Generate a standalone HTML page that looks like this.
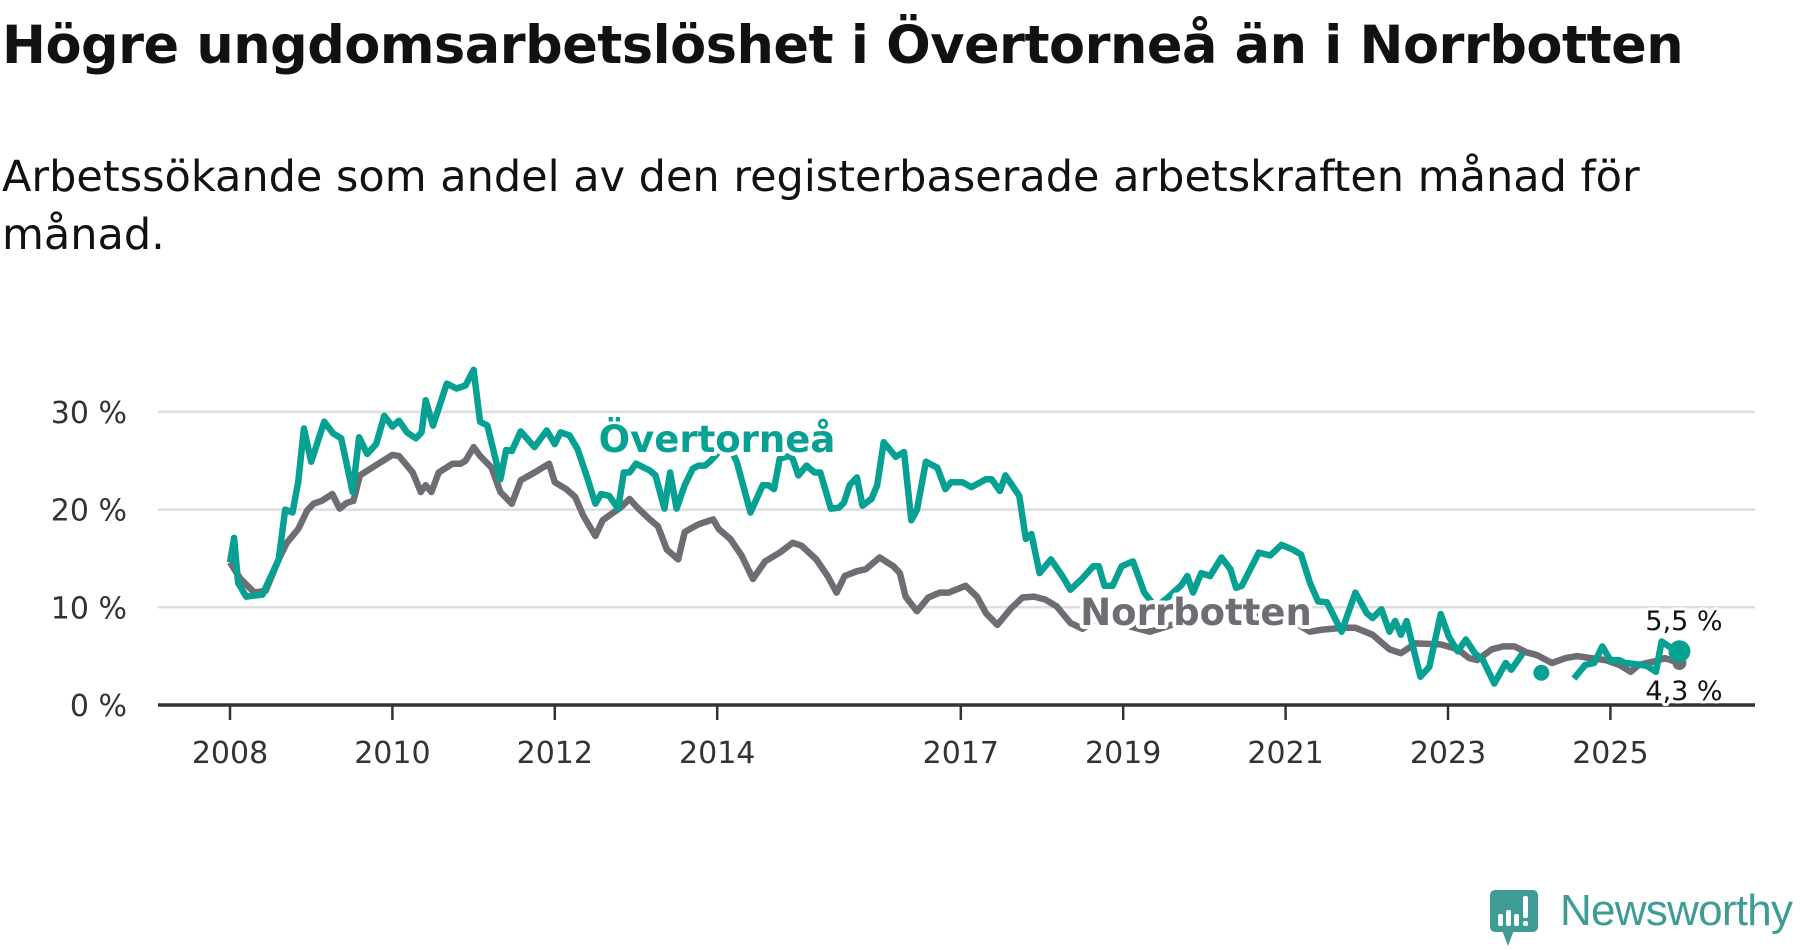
<!DOCTYPE html>
<html><head><meta charset="utf-8"><style>
html,body{margin:0;padding:0;background:#fff;}
body{width:1800px;height:948px;position:relative;overflow:hidden;font-family:"DejaVu Sans","Liberation Sans",sans-serif;}
h1{position:absolute;left:2px;top:15px;margin:0;font-size:52.5px;font-weight:bold;color:#111;letter-spacing:-0.5px;white-space:nowrap;}
p.sub{position:absolute;left:2px;top:148px;margin:0;font-size:43px;line-height:58px;color:#111;width:1760px;}
svg{position:absolute;left:0;top:0;}
</style></head><body>
<h1>Högre ungdomsarbetslöshet i Övertorneå än i Norrbotten</h1>
<p class="sub">Arbetssökande som andel av den registerbaserade arbetskraften månad för<br>månad.</p>
<svg id="chart" width="1800" height="948" xmlns="http://www.w3.org/2000/svg"></svg>
<script>
const yTicks=[0,10,20,30];
const yTickLabels=["0 %","10 %","20 %","30 %"];
const xTicks=[2008,2010,2012,2014,2017,2019,2021,2023,2025];
const overDates=[2008.0,2008.05,2008.1,2008.2,2008.4,2008.6,2008.68,2008.77,2008.84,2008.91,2009.0,2009.16,2009.27,2009.37,2009.51,2009.59,2009.69,2009.8,2009.9,2010.0,2010.08,2010.18,2010.29,2010.36,2010.41,2010.5,2010.67,2010.79,2010.9,2011.0,2011.08,2011.17,2011.33,2011.4,2011.47,2011.58,2011.75,2011.9,2012.0,2012.07,2012.18,2012.28,2012.39,2012.5,2012.57,2012.67,2012.78,2012.85,2012.92,2013.0,2013.17,2013.24,2013.35,2013.42,2013.5,2013.6,2013.7,2013.77,2013.85,2013.92,2014.05,2014.15,2014.24,2014.41,2014.56,2014.63,2014.7,2014.77,2014.88,2014.93,2015.0,2015.1,2015.2,2015.27,2015.4,2015.5,2015.56,2015.63,2015.72,2015.79,2015.9,2015.97,2016.05,2016.2,2016.3,2016.39,2016.46,2016.57,2016.71,2016.81,2016.88,2017.02,2017.13,2017.31,2017.38,2017.48,2017.55,2017.72,2017.8,2017.87,2017.97,2018.11,2018.25,2018.35,2018.49,2018.63,2018.7,2018.77,2018.87,2018.98,2019.12,2019.26,2019.4,2019.55,2019.72,2019.79,2019.86,2019.96,2020.07,2020.21,2020.32,2020.39,2020.46,2020.67,2020.81,2020.95,2021.09,2021.19,2021.3,2021.4,2021.51,2021.69,2021.86,2022.0,2022.07,2022.18,2022.28,2022.35,2022.42,2022.49,2022.66,2022.77,2022.91,2023.01,2023.12,2023.22,2023.33,2023.43,2023.57,2023.71,2023.78,2023.92,2024.0,2024.15,2024.3,2024.55,2024.69,2024.8,2024.9,2025.0,2025.11,2025.18,2025.3,2025.45,2025.56,2025.63,2025.72,2025.85];
const overValues=[14.6,17.1,12.5,11.1,11.3,14.9,20,19.7,22.8,28.3,24.9,29,27.8,27.3,21.8,27.4,25.7,26.7,29.6,28.5,29.1,27.9,27.3,27.9,31.2,28.6,32.9,32.4,32.7,34.3,29,28.6,23.1,26.1,26,28,26.4,28.1,26.7,27.9,27.6,26.2,23.5,20.6,21.6,21.4,20.1,23.8,23.8,24.7,24,23.5,20.1,23.8,20.1,22.5,24.2,24.5,24.5,25,26.2,26.5,24.9,19.7,22.5,22.5,22.1,25.2,25.5,25.2,23.5,24.5,23.8,23.8,20.1,20.2,20.7,22.5,23.3,20.4,21.1,22.5,26.9,25.4,25.9,18.9,20,24.9,24.3,22.1,22.8,22.8,22.3,23.1,23.1,21.9,23.5,21.4,17,17.5,13.5,14.9,13.2,11.8,12.9,14.2,14.2,12.2,12.2,14.2,14.7,11.5,10,11,12.3,13.2,11.5,13.5,13.2,15.1,13.9,12,12.2,15.6,15.3,16.4,15.9,15.4,12.5,10.6,10.5,7.5,11.5,9.4,8.9,9.8,7.5,8.6,7.2,8.6,2.9,3.9,9.3,7,5.5,6.7,5.3,4.6,2.2,4.3,3.6,5.3,null,3.3,null,2.7,4.1,4.3,6,4.6,4.6,4.3,4.2,4.0,3.4,6.5,6.0,5.5];
const norrDates=[2008.0,2008.13,2008.3,2008.44,2008.6,2008.7,2008.84,2008.95,2009.03,2009.13,2009.26,2009.35,2009.44,2009.52,2009.6,2010.0,2010.08,2010.18,2010.25,2010.35,2010.41,2010.48,2010.57,2010.74,2010.84,2010.9,2011.0,2011.08,2011.22,2011.33,2011.47,2011.58,2011.75,2011.93,2012.0,2012.14,2012.25,2012.35,2012.5,2012.59,2012.67,2012.81,2012.92,2013.03,2013.17,2013.27,2013.38,2013.52,2013.6,2013.66,2013.77,2013.95,2014.02,2014.16,2014.3,2014.44,2014.59,2014.77,2014.93,2015.04,2015.22,2015.36,2015.47,2015.57,2015.72,2015.83,2016.0,2016.17,2016.25,2016.32,2016.46,2016.6,2016.74,2016.85,2017.06,2017.2,2017.31,2017.45,2017.62,2017.76,2017.9,2018.04,2018.18,2018.35,2018.5,2018.7,2018.9,2019.1,2019.33,2019.6,2019.9,2020.2,2020.4,2020.6,2020.9,2021.1,2021.3,2021.44,2021.72,2021.86,2022.07,2022.28,2022.42,2022.6,2022.91,2023.12,2023.26,2023.36,2023.54,2023.68,2023.82,2023.96,2024.1,2024.28,2024.45,2024.59,2024.76,2024.94,2025.11,2025.25,2025.35,2025.56,2025.67,2025.85];
const norrValues=[14.6,12.9,11.5,11.7,14.9,16.6,18,19.9,20.6,20.9,21.6,20.1,20.7,20.9,23.5,25.6,25.5,24.5,23.8,21.8,22.5,21.8,23.8,24.7,24.7,25,26.4,25.5,24.3,21.8,20.6,23,23.8,24.7,22.8,22.1,21.3,19.4,17.3,18.9,19.4,20.2,21.1,20.1,19,18.3,15.9,14.9,17.7,18,18.5,19,18,17,15.3,12.9,14.7,15.6,16.6,16.3,14.9,13.2,11.5,13.2,13.7,13.9,15.1,14.2,13.5,11.1,9.6,11,11.5,11.5,12.2,11.1,9.4,8.2,9.9,11,11.1,10.8,10.1,8.4,7.8,9,8.5,8.0,7.5,8.2,9,8.5,10,9.5,8.8,8.5,7.5,7.7,7.9,7.9,7.2,5.7,5.3,6.3,6.2,5.7,4.8,4.6,5.7,6,6,5.4,5.1,4.3,4.8,5,4.8,4.6,4.1,3.4,4.1,4.5,4.8,4.3];
const TEAL="#06a193", GRAY="#6e6d73";
const FONT="DejaVu Sans, Liberation Sans, sans-serif";
const svg=document.getElementById('chart');
const NS="http://www.w3.org/2000/svg";
function x(d){return 230+81.2*(d-2008);}
function y(v){return 705-9.77*v;}
function mk(t,attrs){const e=document.createElementNS(NS,t);for(const k in attrs)e.setAttribute(k,attrs[k]);svg.appendChild(e);return e;}
yTicks.forEach((t,i)=>{
  if(t>0){const g=mk('line',{x1:158,x2:1755,y1:y(t),y2:y(t),stroke:'#dedede','stroke-width':2.5});
  
  }
  const l=mk('text',{x:127,y:y(t)+11,'text-anchor':'end','font-size':30,fill:'#333','font-family':FONT});
  l.textContent=yTickLabels[i];
  
  
});
xTicks.forEach(t=>{
  const tk=mk('line',{x1:x(t),x2:x(t),y1:705,y2:720,stroke:'#333','stroke-width':2.5});
  
  
  const l=mk('text',{x:x(t),y:763,'text-anchor':'middle','font-size':30,fill:'#333','font-family':FONT});
  l.textContent=String(t);
  
  
});
function pathFor(ds,vs){let d='',pen=false;for(let i=0;i<ds.length;i++){if(vs[i]==null){pen=false;continue;}d+=(pen?'L':'M')+x(ds[i]).toFixed(1)+' '+y(vs[i]).toFixed(1);pen=true;}return d;}
const pn=mk('path',{d:pathFor(norrDates,norrValues),fill:'none',stroke:GRAY,'stroke-width':6.5,'stroke-linejoin':'round'});


const po=mk('path',{d:pathFor(overDates,overValues),fill:'none',stroke:TEAL,'stroke-width':6.5,'stroke-linejoin':'round'});


for(let i=0;i<overDates.length;i++){if(overValues[i]!=null&&(i==0||overValues[i-1]==null)&&(i==overDates.length-1||overValues[i+1]==null)){
  const c=mk('circle',{cx:x(overDates[i]),cy:y(overValues[i]),r:8,fill:TEAL});
  
  }}
const axis=mk('line',{x1:158,x2:1755,y1:705,y2:705,stroke:'#333','stroke-width':3.5});


const ln=norrDates.length-1, lo=overDates.length-1;
const en=mk('circle',{cx:x(norrDates[ln]),cy:y(norrValues[ln]),r:7,fill:GRAY});


const eo=mk('circle',{cx:x(overDates[lo]),cy:y(overValues[lo]),r:11,fill:TEAL});


function lbl(tx,xx,yy,fs,col,bold,name){const t=mk('text',{x:xx,y:yy,'font-size':fs,fill:col,'font-weight':bold?'bold':'normal','text-anchor':'middle',stroke:'#fff','stroke-width':bold?8:6,'paint-order':'stroke','stroke-linejoin':'round','font-family':FONT});t.textContent=tx;
  
  }
lbl('Övertorneå',717,452,37,TEAL,true,'overtornea-label');
lbl('Norrbotten',1196,625,37,GRAY,true,'norrbotten-label');
lbl(overValues[lo].toFixed(1).replace('.',',')+' %',1684,630,27,'#111',false,'overtornea-end-value');
lbl(norrValues[ln].toFixed(1).replace('.',',')+' %',1684,700,27,'#111',false,'norrbotten-end-value');
</script>
<svg width="310" height="62" style="left:1488px;top:888px;" xmlns="http://www.w3.org/2000/svg">
<rect x="2" y="2" width="48" height="42" rx="5" fill="#3f9c94"/>
<polygon points="14,42 26,42 20,58" fill="#3f9c94"/>
<rect x="10" y="26" width="5" height="12" rx="2" fill="#fff"/>
<rect x="18" y="22" width="5" height="16" rx="2" fill="#fff"/>
<rect x="26" y="26" width="5" height="12" rx="2" fill="#fff"/>
<rect x="35" y="8" width="5" height="22" rx="2" fill="#fff"/>
<rect x="35" y="33" width="5" height="5" rx="2" fill="#fff"/>
<text x="72" y="37" font-size="44" fill="#3f9c94" font-family="Liberation Sans, sans-serif" textLength="233">Newsworthy</text>
</svg>
</body></html>
